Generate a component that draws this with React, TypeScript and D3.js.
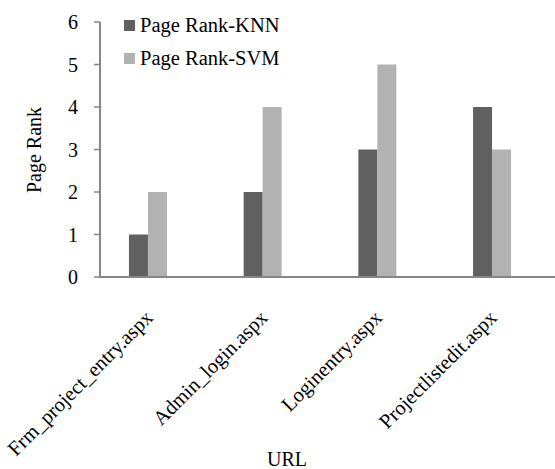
import React from "react"
import * as d3 from "d3"

const categories = [
  "Frm_project_entry.aspx",
  "Admin_login.aspx",
  "Loginentry.aspx",
  "Projectlistedit.aspx",
]
const seriesNames = ["Page Rank-KNN", "Page Rank-SVM"]
const knnValues = [1, 2, 3, 4]
const svmValues = [2, 4, 5, 3]
const yTicks = [0, 1, 2, 3, 4, 5, 6]
const colors = ["#606060", "#b2b2b2"]

const W = 555
const H = 469
const font = "'Liberation Serif', 'Times New Roman', serif"

export default function App() {
  const axisX = 100
  const x = d3.scaleBand<string>().domain(categories).range([90.6, 549.4])
  const inner = d3.scaleBand<string>().domain(seriesNames).range([0, 38])
  const y = d3.scaleLinear().domain([0, 6]).range([277, 22])
  const series = [knnValues, svmValues]

  return (
    <svg
      width={W}
      height={H}
      style={{ position: "absolute", left: 0, top: 0, background: "#fff" }}
      fontFamily={font}
    >
      {/* bars */}
      {categories.map((c, i) => {
        const gx = (x(c) as number) + x.bandwidth() / 2 - 19
        return (
          <g key={c} transform={`translate(${gx},0)`}>
            {series.map((vals, s) => (
              <rect
                key={s}
                x={inner(seriesNames[s])}
                y={y(vals[i])}
                width={inner.bandwidth()}
                height={y(0) - y(vals[i])}
                fill={colors[s]}
              />
            ))}
          </g>
        )
      })}

      {/* y axis */}
      <line x1={axisX} x2={axisX} y1={y(6)} y2={y(0)} stroke="#868686" strokeWidth={2} />
      {yTicks.map((t) => (
        <g key={t}>
          <line x1={axisX - 6} x2={axisX} y1={y(t)} y2={y(t)} stroke="#868686" strokeWidth={1.5} />
          <text x={78} y={y(t)} dy="0.35em" textAnchor="end" fontSize={20} fill="#000">
            {t}
          </text>
        </g>
      ))}

      {/* x axis */}
      <line x1={axisX - 1} x2={W} y1={y(0)} y2={y(0)} stroke="#868686" strokeWidth={2} />
      {categories.map((c) => {
        const cx = (x(c) as number) + x.bandwidth() / 2 + 6
        const cy = 319
        return (
          <text
            key={c}
            x={cx}
            y={cy}
            textAnchor="end"
            fontSize={20.5}
            transform={`rotate(-45,${cx},${cy})`}
            fill="#000"
          >
            {c}
          </text>
        )
      })}

      {/* axis titles */}
      <text x={287} y={466} textAnchor="middle" fontSize={20} fill="#000">
        URL
      </text>
      <text
        x={41}
        y={150}
        textAnchor="middle"
        fontSize={20}
        transform="rotate(-90,41,150)"
        fill="#000"
      >
        Page Rank
      </text>

      {/* legend */}
      {seriesNames.map((n, i) => (
        <g key={n} transform={`translate(124,${20 + i * 33})`}>
          <rect width={11} height={11} fill={colors[i]} />
          <text x={16} y={12} fontSize={20.5} fill="#000">
            {n}
          </text>
        </g>
      ))}
    </svg>
  )
}
